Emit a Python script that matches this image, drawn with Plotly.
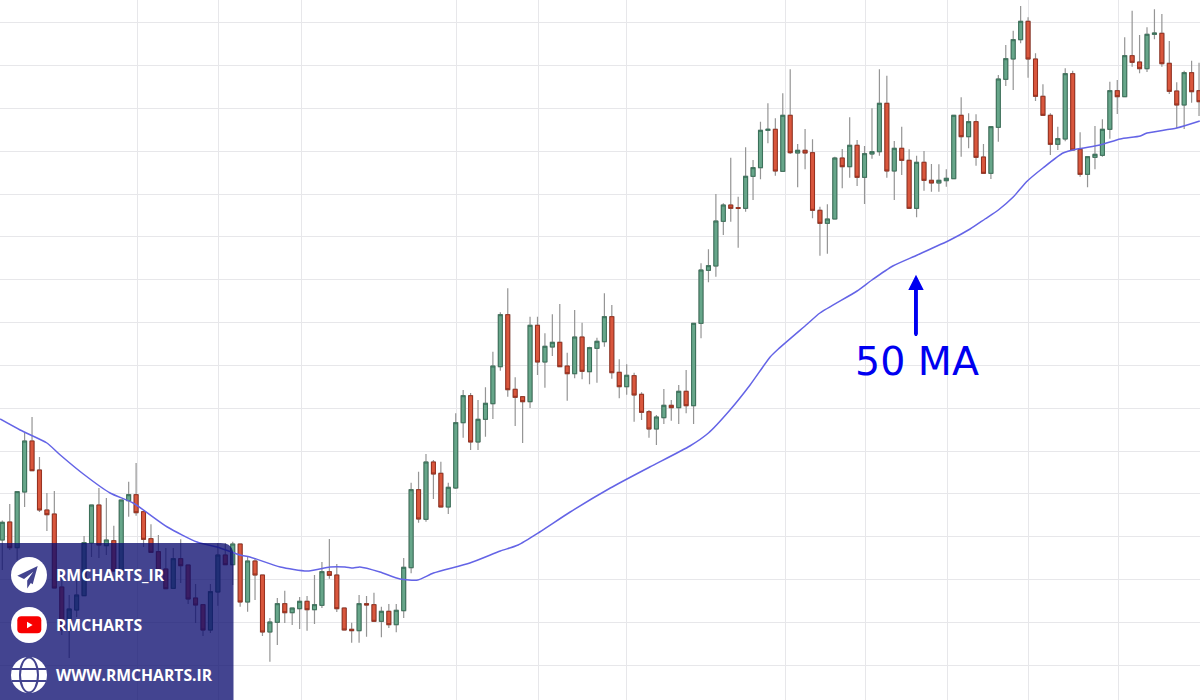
import plotly.graph_objects as go

# ---------- data (price units, grid step about 42.8) ----------
opens = [160,178,152.3,208,259,230,190,186,113,70,90,104.3,157,195,154.3,159.3,130,199.3,205.3,188.3,
161.3,148.3,131,111.7,141.3,135,102,95.3,70,108,145,135.3,156,98,139,125,68,77.7,96.3,87.3,
91.3,98.7,90.3,94.7,128.3,125,92,70.7,69.3,96.3,95.3,78.7,88.7,75.3,89.3,132.3,210.3,180.7,238,226.7,
193,212,277.3,304.3,258,280.7,296.3,333.3,385.3,310.7,303.3,298.3,374.7,338,353,357.7,334,326.3,363,328.3,
351.7,358.3,383.3,327.7,313.3,324.3,305.7,288.3,271,282.3,294.7,292.3,308.7,294.3,376.7,429.7,434,478.7,495,492.3,
491.7,523.7,532.3,569.7,570.7,528.7,584.7,547,549.7,547.3,489.7,476.7,481,542,533.3,554.7,522.7,546,548.3,596.7,
529,551.7,539.7,491.7,537.7,519.7,517,519.3,521.3,584.7,563.3,578.3,543,526.7,572.7,620.7,641,660.3,678.7,641,
603.7,584.7,555.7,561,626.3,550.7,525.7,542.7,544.7,570.7,609.3,603.3,644.3,638,631.3,665.7,666.7,636.7,609,595,
627.3,609.3]
highs = [179.5,196,208.3,267,283,243,207,209,127,105,120,164,195,212,202,174.3,200,218.3,237,188.3,
175.7,165,152,152,160.7,135,116,95.3,116,157,157,158.3,156,144,142,125,82,102,109.3,92,
103,104,125,138,161,136,92,77.3,105,104,107.3,93.3,96,96,142,217.3,228.3,246,240,238.3,
217.3,286.7,310,307,300,312.7,348.3,387.7,411.7,322.7,303.3,383.3,383.3,366.7,385.7,396,347.3,390,377.3,353.3,
362.3,406.7,395,340.7,335.7,327.3,307.7,290,285,311,300,315,330,377.3,436.7,450.7,506,496.7,542.3,503.3,
552.7,540,578.3,596.7,581.7,606.7,630.7,556,571,560.7,493.3,495.7,543.3,551,582.7,560,554,591.7,630.7,624.3,
559,573.3,550.7,544.3,549,536,535.7,530.7,584.7,602.7,586.7,585.7,556,574,625,655,669.3,694,682.7,646.7,
615.7,586.7,573.3,631.7,629.3,567.7,543.3,574,580.7,618.3,620,662.7,689.3,665,672.7,690.7,686,659,617.7,629.3,
639.3,637.3]
lows = [130,150,140,193,229,188,169,112,65,42,83,104.3,143,142,145,129,127,183.3,184.3,153,
147,130,111,111.7,117,96,77,64,67,94.3,135,115,93.3,88.3,100,64,38.3,55,77,75,
71,69.3,76,92,121.3,88,70,57.3,57.3,63.3,78.7,62.7,72,67.7,82,126.7,177.3,178.3,201,193,
186,211,262.3,250,250,263.3,281,329.3,303.3,274,257,292,325,312.3,344,332.7,299.3,321.7,320.7,315.7,
317.3,353.3,321.3,301.7,305.3,278.3,280,262.3,255,276,279.3,276,286.7,276,361.7,417.7,423.3,465,478.3,452.3,
488.3,500,520.7,556.7,524.3,528.3,546,512.7,530.7,481.7,444.3,446.3,481,511.7,522.3,514,496,541.3,544.3,522.3,
500,525,491,482.7,509.3,508.3,508.3,513.3,520.7,543.3,551.7,534.3,526.7,521,558.3,614,610,656.7,622.3,599,
584.7,545,550,558.7,550,523.3,512.7,530.7,543.3,561.3,586,603.3,633.3,626.7,628,660.7,633.3,606,571.7,571,
597.3,584]
closes = [177.7,152.3,208.3,259,229.3,190,185.3,112,70,91,105,157.3,195,155,160,129,200,205.3,187.3,160.7,
147.7,130,111.3,141.3,134.3,101,95,70,108.3,145,135.3,156,98,139,125,68,78,96.3,87.3,92,
98.7,90.3,95.3,128.3,124.7,91.3,70,69.3,96.3,95,78.7,88.7,75.3,89.7,132.7,210.3,181,238,226,193,
212.7,277.3,304.3,258,280.7,296.7,334,385.3,310.3,302.7,298.3,374.7,338,353.7,357.7,333.3,326.3,363,328.7,352.3,
358.7,383.3,327.3,313.3,324.7,305,287.7,271,283,294.7,292.3,308.7,294.3,376.7,430,434.3,479,495,491.7,491.7,
523.7,532.3,569.7,570.7,529,584.7,547.3,549.7,547,489.7,476.7,481,542,533.3,554.7,522.7,546.3,548.3,596.7,529,
551.7,539.7,491.7,537.7,519.7,517,519.7,521.7,584.7,563.3,578.3,542.7,526.7,573.3,621,641.3,660.3,678.7,641,603.7,
584.7,555.7,561.3,626.3,550,525.7,543.3,545.7,570.7,609.3,603.3,644.3,637.7,631.3,665.7,667,636.3,608.7,595,627.3,
608.3,598.3]
candle_index = list(range(len(opens)))

ma_index = [-0.3,2.4,6.0,7.8,10.9,14.5,17.6,22.2,26.2,29.3,32.0,33.3,37.4,41.0,44.1,46.1,47.2,48.1,50.8,53.5,
55.9,58.0,62.9,67.0,69.4,72.3,76.4,81.8,87.1,92.5,95.0,97.9,100.6,103.3,104.4,108.3,110.0,115.0,117.0,119.8,
123.1,127.5,130.2,132.2,134.0,136.0,137.9,140.0,142.7,144.6,147.7,150.4,153.1,154.0,158.0,161.1]
ma_values = [281,270,257,245,226,207,197,173,158,152,145,143,133,129,133,133,132,133,128,121,
120,127,137,149,155,168,188,212,233,254,267,290,315,343,351,376,387,409,420,434,
445,460,471,481,490,503,519,532,547,551,555,561,564,567,572,579]

grid_x = [18.2,29.1,40.2,61.1,72.2,84.0,105.3,116.1,127.2,138.1,150.2]
grid_y = [34.8,77.6,120.5,163.3,206.1,249.0,291.8,334.6,377.5,420.3,463.1,506.0,548.8,591.6,634.5,677.3]
x_range = [-0.31, 161.13]
y_range = [0, 700]

annotation_label = "50 MA"
panel_labels = ["RMCHARTS_IR", "RMCHARTS", "WWW.RMCHARTS.IR"]

GREEN, GREEN_DARK = "#67a68a", "#3a7059"
RED, RED_DARK = "#d9573d", "#97301f"
WICK = "#959595"
GRID = "#e7e7ea"
PANEL = "rgba(11,12,110,0.77)"
PANEL_SOLID = "#43448f"
BLUE = "#0000f0"

fig = go.Figure()
fig.add_trace(go.Candlestick(
    x=candle_index, open=opens, high=highs, low=lows, close=closes,
    increasing=dict(line=dict(color=WICK, width=1.2), fillcolor="rgba(0,0,0,0)"),
    decreasing=dict(line=dict(color=WICK, width=1.2), fillcolor="rgba(0,0,0,0)"),
    whiskerwidth=0, showlegend=False, hoverinfo="skip"))
fig.add_trace(go.Candlestick(
    x=candle_index, open=opens, close=closes,
    high=[max(o, c) for o, c in zip(opens, closes)],
    low=[min(o, c) for o, c in zip(opens, closes)],
    increasing=dict(line=dict(color=GREEN_DARK, width=1), fillcolor=GREEN),
    decreasing=dict(line=dict(color=RED_DARK, width=1), fillcolor=RED),
    whiskerwidth=0, showlegend=False, hoverinfo="skip"))
fig.add_trace(go.Scatter(
    x=ma_index, y=ma_values, mode="lines", showlegend=False, hoverinfo="skip",
    line=dict(color="#6464e6", width=1.5, shape="spline", smoothing=0.6)))

W, H = 1200, 700
def px(x): return x / W
def py(y): return (H - y) / H
def path(points, close=True):
    s = "M " + " L ".join(f"{px(a):.5f},{py(b):.5f}" for a, b in points)
    return s + (" Z" if close else "")

shapes = []
# translucent brand panel with rounded top-right corner
r = 13
panel = (f"M {px(0)},{py(700)} L {px(0)},{py(543)} L {px(233.5-r):.5f},{py(543):.5f} "
         f"Q {px(233.5):.5f},{py(543):.5f} {px(233.5):.5f},{py(543+r):.5f} "
         f"L {px(233.5):.5f},{py(700)} Z")
shapes.append(dict(type="path", path=panel, xref="paper", yref="paper", fillcolor=PANEL,
                   line=dict(width=0), layer="above"))
def circle(cx, cy, rx, ry=None, fill="white", line=None, lw=0):
    ry = rx if ry is None else ry
    return dict(type="circle", xref="paper", yref="paper", x0=px(cx-rx), x1=px(cx+rx),
                y0=py(cy+ry), y1=py(cy-ry), fillcolor=fill,
                line=dict(width=lw, color=line or fill), layer="above")
def poly(points, fill, close=True, lw=0, color=None):
    return dict(type="path", path=path(points, close), xref="paper", yref="paper",
                fillcolor=fill, line=dict(width=lw, color=color or fill), layer="above")
# telegram
shapes.append(circle(29, 575, 18))
shapes.append(poly([(37.7,566),(17.3,575.7),(24,579),(33.3,571.7),(27.2,580.6),(27.2,588.5),(30.8,583),(32.7,584.3)], PANEL_SOLID))
# youtube
shapes.append(circle(29, 625, 18))
x0, x1, y0, y1, c = 17.3, 41.3, 616.3, 633.3, 4
yt = (f"M {px(x0+c):.5f},{py(y0):.5f} L {px(x1-c):.5f},{py(y0):.5f} Q {px(x1):.5f},{py(y0):.5f} {px(x1):.5f},{py(y0+c):.5f} "
      f"L {px(x1):.5f},{py(y1-c):.5f} Q {px(x1):.5f},{py(y1):.5f} {px(x1-c):.5f},{py(y1):.5f} "
      f"L {px(x0+c):.5f},{py(y1):.5f} Q {px(x0):.5f},{py(y1):.5f} {px(x0):.5f},{py(y1-c):.5f} "
      f"L {px(x0):.5f},{py(y0+c):.5f} Q {px(x0):.5f},{py(y0):.5f} {px(x0+c):.5f},{py(y0):.5f} Z")
shapes.append(dict(type="path", path=yt, xref="paper", yref="paper", fillcolor="#f80000",
                   line=dict(width=0), layer="above"))
shapes.append(poly([(27,621.8),(27,628.3),(32.6,625)], "white"))
# globe
shapes.append(circle(29, 675, 18))
shapes.append(circle(29, 675, 9, 17.5, fill="rgba(0,0,0,0)", line=PANEL_SOLID, lw=2))
shapes.append(poly([(12,669),(46,669)], "rgba(0,0,0,0)", close=False, lw=2.2, color=PANEL_SOLID))
shapes.append(poly([(12,681),(46,681)], "rgba(0,0,0,0)", close=False, lw=2.2, color=PANEL_SOLID))
# 50 MA arrow
shapes.append(poly([(916,274.7),(923.7,290),(917.9,290),(917.9,334),(916.9,336),(915,336),(914,334),(914,290),(908.3,290)], BLUE))

annotations = [dict(x=px(53.5), y=py(yy), xref="paper", yref="paper", text=t, showarrow=False,
                    xanchor="left", yanchor="middle",
                    font=dict(family="Open Sans", size=15.7, color="white", weight=700))
               for t, yy in zip(panel_labels, [575, 625, 675])]
annotations.append(dict(x=px(917.5), y=py(360.5), xref="paper", yref="paper", text=annotation_label,
                        showarrow=False, xanchor="center", yanchor="middle",
                        font=dict(family="DejaVu Sans", size=39.5, color=BLUE)))

axis_common = dict(showline=False, zeroline=False, showticklabels=False, ticks="",
                   showgrid=True, gridcolor=GRID, gridwidth=1, fixedrange=True)
fig.update_layout(
    width=W, height=H, margin=dict(l=0, r=0, t=0, b=0),
    paper_bgcolor="white", plot_bgcolor="white", boxgap=0.24,
    xaxis=dict(range=x_range, tickvals=grid_x, rangeslider=dict(visible=False), **axis_common),
    yaxis=dict(range=y_range, tickvals=grid_y, **axis_common),
    shapes=shapes, annotations=annotations, showlegend=False,
)
fig.write_html("out.html", config=dict(displayModeBar=False),
               post_script="document.body.style.margin='0';document.body.style.overflow='hidden';")
